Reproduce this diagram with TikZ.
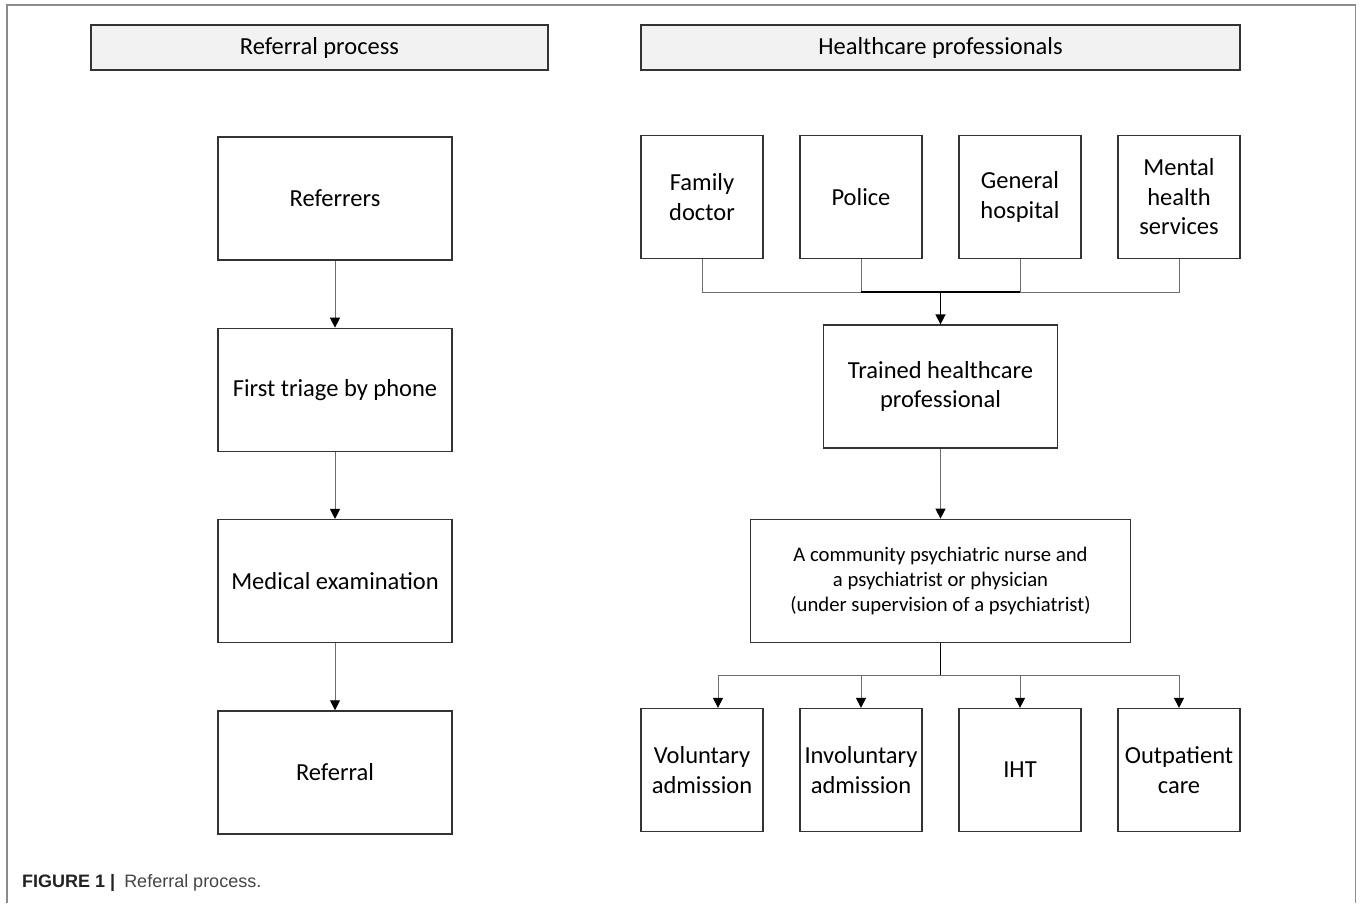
\documentclass[tikz,border=0pt]{standalone}
\usepackage{fontspec}
\setmainfont{Carlito}
\newfontfamily\capfont{Liberation Sans}
\usetikzlibrary{positioning}
\usetikzlibrary{arrows.meta}
\definecolor{headfill}{HTML}{F2F2F2}
\definecolor{boxline}{HTML}{333333}
\definecolor{wire}{HTML}{6E6E6E}
\definecolor{framegray}{HTML}{8C8C8C}
\begin{document}
\begin{tikzpicture}[x=1pt,y=-1pt,
  box/.style={draw=boxline,line width=1.3pt,minimum width=234pt,minimum height=123pt,align=center,inner sep=0pt,font=\fontsize{24.5}{29.5}\selectfont},
  smallbox/.style={box,minimum width=122pt},
  headbox/.style={box,fill=headfill,minimum height=45pt,font=\fontsize{24.5}{29}\selectfont},
  wireline/.style={draw=wire,line width=1pt},
  arr/.style={wireline,-{Triangle[length=10pt,width=10pt,black]}},
  stem/.style={draw=black,line width=1.6pt}]
\useasboundingbox (0,0) rectangle (1360,903);
\draw[framegray,line width=1.2pt] (7,903) -- (7,5) -- (1355.5,5) -- (1355.5,903);

% headers
\node[headbox,minimum width=457pt](head1) at (319.5,47.5){Referral process};
\node[headbox,minimum width=599pt](head2) at (940.5,47.5){Healthcare professionals};

% referral process
\node[box](ref) at (335,198.5){Referrers};
\node[box,below=67pt of ref](triage){First triage by phone};
\node[box,below=67pt of triage](exam){Medical examination};
\node[box,below=67pt of exam](referral){Referral};
\path (ref) edge[arr] (triage);
\path (triage) edge[arr] (exam);
\path (exam) edge[arr] (referral);

% healthcare professionals
\node[smallbox](fam) at (702,197){Family\\doctor};
\node[smallbox,right=35.7pt of fam](pol){Police};
\node[smallbox,right=35.7pt of pol](gen){General\\hospital};
\node[smallbox,right=35.7pt of gen](men){Mental\\health\\services};
\node[box](trained) at (940.5,386.5){Trained healthcare\\professional};
\node[box,below=70pt of trained,minimum width=380pt,font=\fontsize{20.7}{25}\selectfont](team){A community psychiatric nurse and\\a psychiatrist or physician\\(under supervision of a psychiatrist)};
\node[smallbox](vol) at (702,770){Voluntary\\admission};
\node[smallbox,right=35.7pt of vol](invol){Involuntary\\admission};
\node[smallbox,right=35.7pt of invol](iht){IHT};
\node[smallbox,right=35.7pt of iht](outp){Outpatient\\care};

\coordinate (jtop) at (940.5,292);
\coordinate (jbot) at (940.5,675);
\draw[wireline] (fam.south) |- (jtop);
\draw[wireline] (men.south) |- (jtop);
\draw[wireline] (pol.south) |- (jtop);
\draw[wireline] (gen.south) |- (jtop);
\draw[stem] (pol.south |- jtop) -- (gen.south |- jtop);
\draw[stem,-{Triangle[length=10pt,width=10pt]}] (jtop) -- (trained.north);
\path (trained) edge[arr] (team);
\draw[stem] (team.south) -- (jbot);
\draw[arr] (jbot) -| ([xshift=16pt]vol.north);
\draw[arr] (jbot) -| (invol.north);
\draw[arr] (jbot) -| (iht.north);
\draw[arr] (jbot) -| (outp.north);

% caption
\node[anchor=base west,inner sep=0pt,font=\capfont\fontsize{18}{22}\selectfont](cap) at (22,887){\textbf{\color[HTML]{222222}FIGURE 1 |}\hspace{9pt}{\color[HTML]{444444}Referral process.}};
\end{tikzpicture}
\end{document}
